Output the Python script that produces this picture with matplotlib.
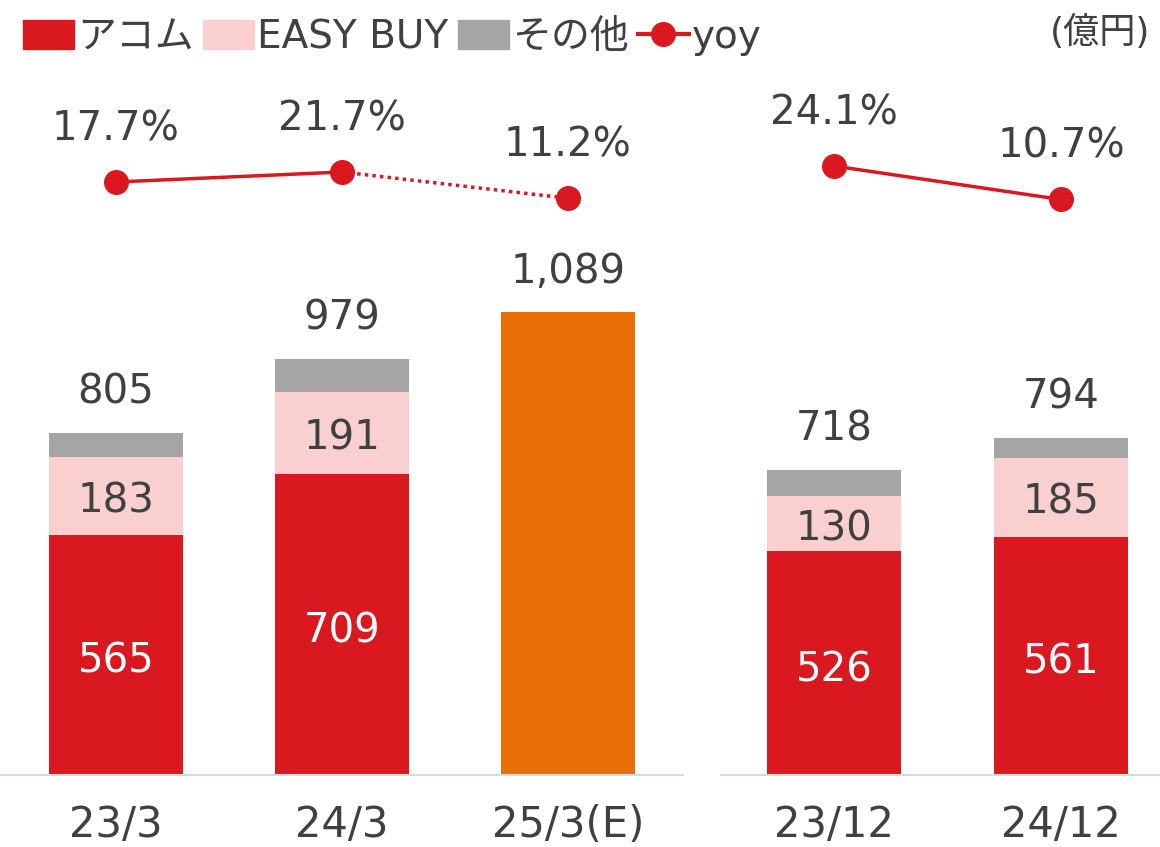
import matplotlib.pyplot as plt
from matplotlib.patches import Patch
from matplotlib.lines import Line2D

plt.rcParams['font.family'] = ['DejaVu Sans', 'Noto Sans CJK JP']

# data
cats_l = ["23/3", "24/3", "25/3(E)"]
acom_l = [565, 709]
easy_l = [183, 191]
other_l = [57, 79]
total_l = [805, 979, 1089]
yoy_l = [17.7, 21.7, 11.2]

cats_r = ["23/12", "24/12"]
acom_r = [526, 561]
easy_r = [130, 185]
other_r = [62, 48]
total_r = [718, 794]
yoy_r = [24.1, 10.7]

RED = "#D9181F"
PINK = "#F9CFD0"
GREY = "#A5A5A5"
ORANGE = "#E86E06"
TXT = "#404040"
FS = 29

W, H = 1160, 847
fig = plt.figure(figsize=(W / 100, H / 100), dpi=100)

bot = 72 / H
hgt = 715 / H
ax_l = fig.add_axes([0, bot, 683 / W, hgt])
ax_r = fig.add_axes([721 / W, bot, (W - 721) / W, hgt])

ymax = 715 / 0.425
ytop = 17.7 + 122 / 2.5
ybot = ytop - 715 / 2.5


def draw_stack(ax, acom, easy, other, totals, width):
    n = len(acom)
    x = list(range(n))
    ax.bar(x, acom, width, color=RED)
    ax.bar(x, easy, width, bottom=acom, color=PINK)
    b2 = [a + e for a, e in zip(acom, easy)]
    ax.bar(x, other, width, bottom=b2, color=GREY)
    for i in range(n):
        ax.annotate(f"{acom[i]}", (i, acom[i] / 2), xytext=(0, -5),
                    textcoords="offset points", ha="center", va="center",
                    color="white", fontsize=FS)
        ax.annotate(f"{easy[i]}", (i, acom[i] + easy[i] / 2), xytext=(0, -4),
                    textcoords="offset points", ha="center", va="center",
                    color=TXT, fontsize=FS)
    for i, t in enumerate(totals):
        ax.annotate(f"{t:,}", (i, t), xytext=(0, 29), textcoords="offset points",
                    ha="center", va="center", color=TXT, fontsize=FS)


def style(ax, cats):
    ax.set_ylim(0, ymax)
    ax.set_xticks(range(len(cats)))
    ax.set_xticklabels(cats, fontsize=FS + 1, color=TXT)
    ax.tick_params(axis="x", length=0, pad=21)
    ax.set_yticks([])
    for s in ["top", "left", "right"]:
        ax.spines[s].set_visible(False)
    ax.spines["bottom"].set_color("#D9D9D9")
    ax.spines["bottom"].set_linewidth(1.5)
    ax.patch.set_alpha(0)


# left panel
draw_stack(ax_l, acom_l, easy_l, other_l, total_l, 0.59)
ax_l.bar([2], [total_l[2]], 0.59, color=ORANGE)
style(ax_l, cats_l)
ax_l.set_xlim(-116 / 226, (683 - 116) / 226)

# right panel
draw_stack(ax_r, acom_r, easy_r, other_r, total_r, 0.59)
style(ax_r, cats_r)
ax_r.set_xlim((721 - 834) / 227, (W - 834) / 227)

# yoy lines
for ax, yoy in [(ax_l, yoy_l), (ax_r, yoy_r)]:
    tw = ax.twinx()
    tw.set_ylim(ybot, ytop)
    tw.axis("off")
    if len(yoy) == 3:
        tw.plot([0, 1], yoy[:2], color=RED, lw=2.5)
        tw.plot([1, 2], yoy[1:], color=RED, lw=2.5, ls=(0, (1, 1.2)))
    else:
        tw.plot(range(len(yoy)), yoy, color=RED, lw=2.5)
    tw.plot(range(len(yoy)), yoy, ls="none", marker="o", ms=17, color=RED)
    for i, v in enumerate(yoy):
        tw.annotate(f"{v}%", (i, v), xytext=(0, 38), textcoords="offset points",
                    ha="center", va="center", color=TXT, fontsize=FS)

# legend
handles = [
    Patch(color=RED),
    Patch(color=PINK),
    Patch(color=GREY),
    Line2D([], [], color=RED, lw=3, marker="o", ms=17),
]
labels = ["アコム", "EASY BUY", "その他", "yoy"]
fig.legend(handles, labels, loc="upper left", bbox_to_anchor=(0.0, 1.006),
           ncol=4, frameon=False, fontsize=FS - 1, handlelength=1.3,
           handleheight=0.75, handletextpad=0.08, columnspacing=0.25,
           labelcolor=TXT, borderaxespad=0.2)

fig.text(1150 / W, 1 - 32 / H, "(億円)", ha="right", va="center",
         fontsize=FS - 3, color=TXT)

fig.savefig("out.png", dpi=100)
